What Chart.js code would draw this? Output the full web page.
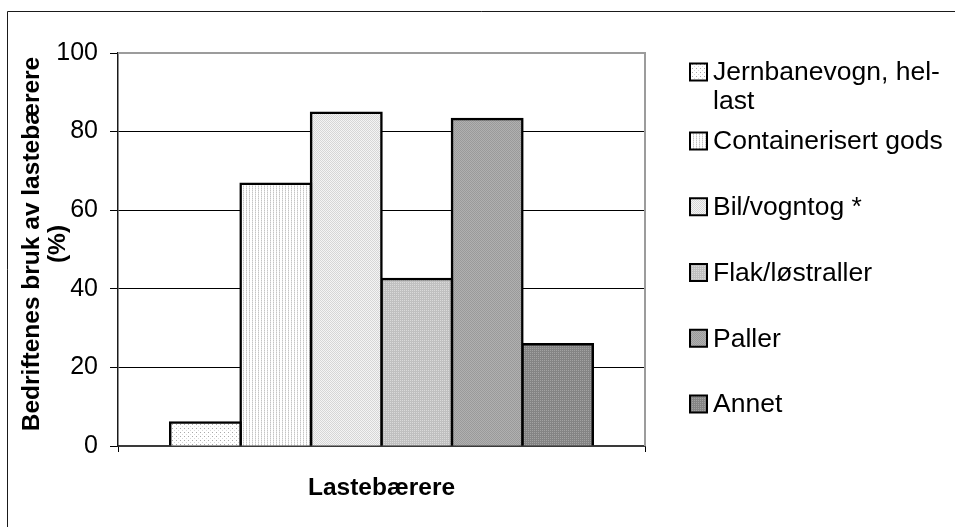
<!DOCTYPE html>
<html>
<head>
<meta charset="utf-8">
<script src="https://cdn.jsdelivr.net/npm/chart.js@4/dist/chart.umd.min.js"></script>
<style>
  html, body { margin: 0; padding: 0; background: #ffffff; }
  #wrap { position: relative; width: 955px; height: 527px; }
</style>
</head>
<body>
<div id="wrap"><canvas id="chart" width="955" height="527"></canvas></div>
<script>
// ---- data ----
const categories = [''];
const seriesNames = [
  'Jernbanevogn, hel-last',
  'Containerisert gods',
  'Bil/vogntog *',
  'Flak/løstraller',
  'Paller',
  'Annet'
];
const seriesValues = [6.0, 66.7, 84.8, 42.5, 83.2, 25.9];
const yTicks = [0, 20, 40, 60, 80, 100];
const yTitleLines = ['Bedriftenes bruk av lastebærere', '(%)'];
const xTitle = 'Lastebærere';

// ---- hatched grey fills ----
function makePattern(w, h, bg, dots) {
  const c = document.createElement('canvas');
  c.width = w; c.height = h;
  const g = c.getContext('2d');
  g.fillStyle = bg;
  g.fillRect(0, 0, w, h);
  dots.forEach(([x, y, col]) => { g.fillStyle = col; g.fillRect(x, y, 1, 1); });
  return g.createPattern(c, 'repeat');
}
const fills = [
  makePattern(4, 4, '#ffffff', [[0, 0, '#a8a8a8'], [2, 2, '#d8d8d8']]),
  makePattern(3, 2, '#ffffff', [[0, 0, '#c4c4c4'], [0, 1, '#e2e2e2']]),
  makePattern(2, 2, '#f4f4f4', [[0, 0, '#d6d6d6'], [1, 1, '#d6d6d6']]),
  makePattern(2, 2, '#c0c0c0', [[0, 0, '#dadada']]),
  makePattern(2, 2, '#b0b0b0', [[0, 0, '#9a9a9a'], [1, 1, '#9a9a9a']]),
  makePattern(2, 2, '#848484', [[0, 0, '#a2a2a2']])
];

const FONT = "'Liberation Sans', Arial, sans-serif";

// ---- frame, plot border, titles and legend ----
const decorations = {
  id: 'decorations',
  beforeDraw(chart) {
    const ctx = chart.ctx;
    ctx.save();
    ctx.fillStyle = '#ffffff';
    ctx.fillRect(0, 0, chart.width, chart.height);
    ctx.strokeStyle = '#1a1a1a';
    ctx.lineWidth = 1;
    ctx.beginPath();
    ctx.moveTo(7.5, chart.height);
    ctx.lineTo(7.5, 11.5);
    ctx.lineTo(chart.width, 11.5);
    ctx.stroke();
    ctx.restore();
  },
  beforeDatasetsDraw(chart) {
    const { ctx, chartArea: a } = chart;
    ctx.save();
    ctx.strokeStyle = '#9c9c9c';
    ctx.lineWidth = 2;
    ctx.beginPath();
    ctx.moveTo(a.left, a.top);
    ctx.lineTo(a.right, a.top);
    ctx.lineTo(a.right, a.bottom);
    ctx.stroke();
    ctx.restore();
  },
  afterDraw(chart) {
    const { ctx, chartArea: a } = chart;
    ctx.save();
    ctx.fillStyle = '#000000';

    // x-axis title
    ctx.font = 'bold 24.5px ' + FONT;
    ctx.textAlign = 'center';
    ctx.textBaseline = 'middle';
    ctx.fillText(xTitle, (a.left + a.right) / 2, 488);

    // y-axis title, rotated
    ctx.save();
    ctx.translate(0, 244);
    ctx.rotate(-Math.PI / 2);
    yTitleLines.forEach((line, i) => ctx.fillText(line, 0, 32 + i * 26));
    ctx.restore();

    // legend
    ctx.font = '26.5px ' + FONT;
    ctx.textAlign = 'left';
    const maxW = 240;
    const wrap = (text) => {
      const parts = text.match(/[^\s-]+-?\s*|\s+/g) || [text];
      const lines = [];
      let cur = '';
      parts.forEach(p => {
        if (cur && ctx.measureText((cur + p).trimEnd()).width > maxW) {
          lines.push(cur.trimEnd());
          cur = p;
        } else cur += p;
      });
      if (cur) lines.push(cur.trimEnd());
      return lines;
    };
    const lineH = 29;
    chart.data.datasets.forEach((ds, i) => {
      const y = i === 0 ? 72 : 141 + (i - 1) * 65.75;
      ctx.fillStyle = ds.backgroundColor;
      ctx.fillRect(690, y - 8.5, 17, 17);
      ctx.strokeStyle = '#000000';
      ctx.lineWidth = 2;
      ctx.strokeRect(690, y - 8.5, 17, 17);
      ctx.fillStyle = '#000000';
      wrap(ds.label).forEach((ln, k) => ctx.fillText(ln, 713, y + 1 + k * lineH));
    });
    ctx.restore();
  }
};

new Chart(document.getElementById('chart'), {
  type: 'bar',
  data: {
    labels: categories,
    datasets: seriesNames.map((name, i) => ({
      label: name,
      data: [seriesValues[i]],
      backgroundColor: fills[i],
      borderColor: '#000000',
      borderWidth: 2.5,
      inflateAmount: 1.25,
      categoryPercentage: 0.802,
      barPercentage: 1.0
    }))
  },
  options: {
    responsive: false,
    animation: false,
    devicePixelRatio: 1,
    layout: { padding: { top: 53, right: 310, left: 0, bottom: 0 } },
    plugins: { legend: { display: false }, tooltip: { enabled: false }, title: { display: false } },
    scales: {
      x: {
        type: 'category',
        offset: true,
        grid: { display: true, drawOnChartArea: false, offset: true, tickLength: 6, color: '#000000', lineWidth: 1 },
        ticks: { display: false },
        border: { color: '#3a3a3a', width: 2 },
        afterFit(s) { s.height = 81; }
      },
      y: {
        min: 0,
        max: 100,
        afterBuildTicks(s) { s.ticks = yTicks.map(v => ({ value: v })); },
        ticks: { color: '#000000', font: { family: FONT, size: 25 }, padding: 12 },
        grid: {
          color: (c) => (c.tick && c.tick.value === 100) ? 'rgba(0,0,0,0)' : '#000000',
          lineWidth: 1,
          tickLength: 8,
          tickColor: '#000000',
          tickWidth: 1
        },
        border: { color: '#1a1a1a', width: 1.5 },
        afterFit(s) { s.width = 118; }
      }
    }
  },
  plugins: [decorations]
});
</script>
</body>
</html>
